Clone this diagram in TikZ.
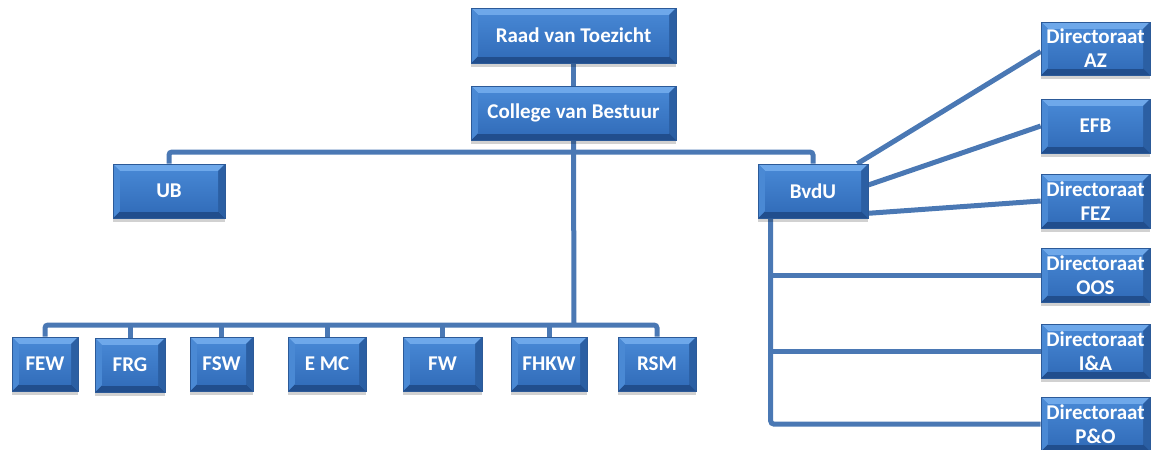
\documentclass[tikz,border=0pt]{standalone}
\usepackage{fontspec}
\setmainfont{Carlito}
\usetikzlibrary{shadows,calc}
\pgfdeclarelayer{background}
\pgfsetlayers{background,main}
\definecolor{facetop}{HTML}{4686D3}
\definecolor{facebot}{HTML}{336EBB}
\definecolor{bevtop}{HTML}{6EA8EA}
\definecolor{bevleft}{HTML}{4A89D4}
\definecolor{bevright}{HTML}{2B5FA3}
\definecolor{bevbot}{HTML}{214E8D}
\definecolor{boxedge}{HTML}{2C5A98}
\definecolor{linecol}{HTML}{4A78B4}
\tikzset{
  box/.style={draw=boxedge, line width=0.6pt, top color=facetop, bottom color=facebot,
    text=white, font=\bfseries\fontsize{21}{24}\selectfont, align=center, inner sep=0pt,
    drop shadow={shadow xshift=0pt, shadow yshift=-4pt, opacity=0.18, fill=black},
    path picture={
      \coordinate (ppsw) at (path picture bounding box.south west);
      \coordinate (ppne) at (path picture bounding box.north east);
      \coordinate (ppnw) at (path picture bounding box.north west);
      \coordinate (ppse) at (path picture bounding box.south east);
      \fill[bevtop] (ppnw) -- (ppne) -- ([shift={(-7pt,-7pt)}]ppne) -- ([shift={(7pt,-7pt)}]ppnw) -- cycle;
      \fill[bevbot] (ppsw) -- (ppse) -- ([shift={(-7pt,7pt)}]ppse) -- ([shift={(7pt,7pt)}]ppsw) -- cycle;
      \fill[bevleft] (ppnw) -- ([shift={(7pt,-7pt)}]ppnw) -- ([shift={(7pt,7pt)}]ppsw) -- (ppsw) -- cycle;
      \fill[bevright] (ppne) -- ([shift={(-7pt,-7pt)}]ppne) -- ([shift={(-7pt,7pt)}]ppse) -- (ppse) -- cycle;
      \shade[top color=facetop, bottom color=facebot] ([shift={(7pt,-7pt)}]ppnw) rectangle ([shift={(-7pt,7pt)}]ppse);
    }},
  conn/.style={draw=linecol, line width=5pt, rounded corners=3pt}
}
\begin{document}
\begin{tikzpicture}[x=1pt,y=-1pt]
\useasboundingbox (0,0) rectangle (1152,450);
% top
\node[box, minimum width=205pt, minimum height=55pt] (rvt) at (573.5,35.5) {Raad van Toezicht};
\node[box, minimum width=205pt, minimum height=54pt] (cvb) at (573.5,113) {College van Bestuur};
\node[box, minimum width=112pt, minimum height=54pt] (ub) at (169,191) {UB};
\node[box, minimum width=110pt, minimum height=54pt] (bvdu) at (813,191) {BvdU};
% directoraten
\node[box, minimum width=109pt, minimum height=53pt] (az) at (1095.5,48.5) {Directoraat\\AZ};
\node[box, minimum width=109pt, minimum height=54pt] (efb) at (1095.5,126) {EFB};
\node[box, minimum width=109pt, minimum height=54pt] (fez) at (1095.5,201) {Directoraat\\FEZ};
\node[box, minimum width=109pt, minimum height=54pt] (oos) at (1095.5,275) {Directoraat\\OOS};
\node[box, minimum width=109pt, minimum height=54pt] (ia) at (1095.5,351) {Directoraat\\I\&A};
\node[box, minimum width=109pt, minimum height=54pt] (po) at (1095.5,424) {Directoraat\\P\&O};
% faculteiten
\node[box, minimum width=66pt, minimum height=54pt] (few) at (45,364) {FEW};
\node[box, minimum width=70pt, minimum height=54pt] (frg) at (130,365) {FRG};
\node[box, minimum width=63pt, minimum height=54pt] (fsw) at (221.5,364) {FSW};
\node[box, minimum width=78pt, minimum height=54pt] (emc) at (327,364) {E MC};
\node[box, minimum width=79pt, minimum height=54pt] (fw) at (442.5,364) {FW};
\node[box, minimum width=76pt, minimum height=54pt] (fhkw) at (549,364) {FHKW};
\node[box, minimum width=78pt, minimum height=54pt] (rsm) at (657,364) {RSM};
\coordinate (tb) at (574,152);
\coordinate (bb) at (574,325);
\coordinate (vx) at ($(bvdu.south west)+(13pt,0)$);
\begin{pgfonlayer}{background}
\draw[conn] (rvt.south) -- (cvb.north);
\draw[conn] (cvb.south) -- (bb);
\draw[conn] (ub.north) |- (tb) -| (bvdu.north);
\draw[conn] (few.north) |- (bb) -| (rsm.north);
\foreach \n in {frg,fsw,emc,fw,fhkw} \draw[conn] (\n.north) -- (\n.north |- bb);
\draw[conn] ($(bvdu.north east)+(-11pt,0)$) -- ($(az.west)+(0,-3pt)$);
\draw[conn] ($(bvdu.east)+(0,6pt)$) -- (efb.west);
\draw[conn] ($(bvdu.south east)+(0,5pt)$) -- (fez.west);
\draw[conn] (vx) |- (po.west);
\draw[conn] (vx |- oos.west) -- (oos.west);
\draw[conn] (vx |- ia.west) -- (ia.west);
\end{pgfonlayer}
\end{tikzpicture}
\end{document}
